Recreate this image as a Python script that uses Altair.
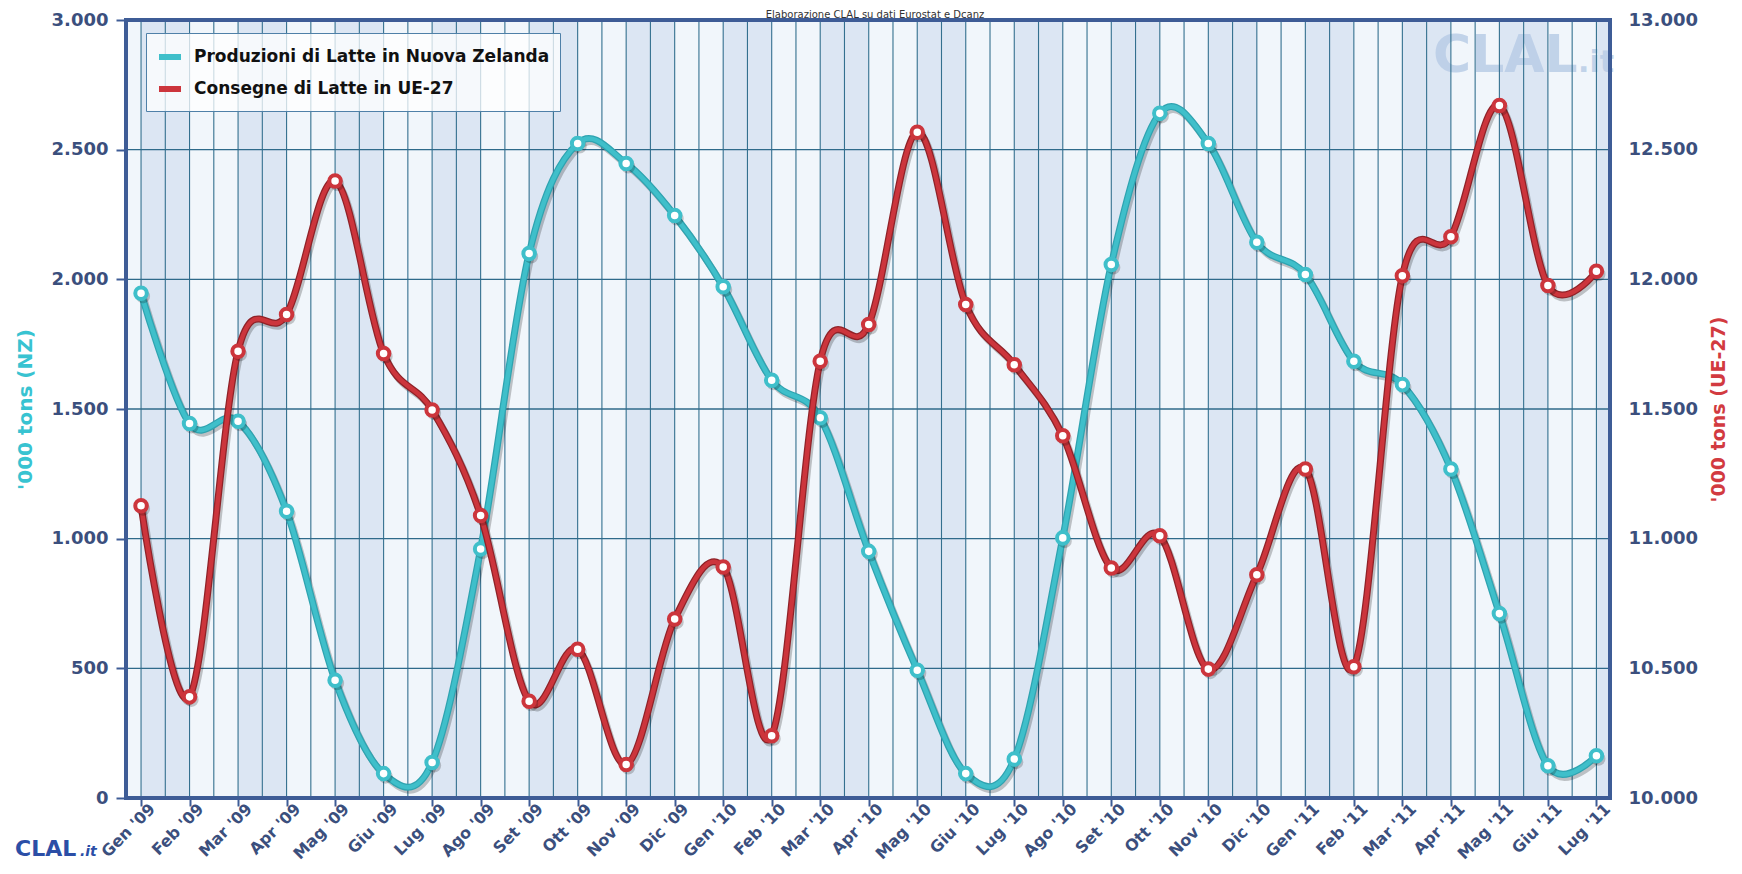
import json
import pandas as pd
import altair as alt

months = ["Gen '09", "Feb '09", "Mar '09", "Apr '09", "Mag '09", "Giu '09", "Lug '09", "Ago '09",
          "Set '09", "Ott '09", "Nov '09", "Dic '09", "Gen '10", "Feb '10", "Mar '10", "Apr '10",
          "Mag '10", "Giu '10", "Lug '10", "Ago '10", "Set '10", "Ott '10", "Nov '10", "Dic '10",
          "Gen '11", "Feb '11", "Mar '11", "Apr '11", "Mag '11", "Giu '11", "Lug '11"]
nz = [1946, 1444, 1453, 1106, 454, 94, 137, 960, 2100, 2524, 2447, 2246,
      1971, 1611, 1466, 951, 493, 94, 150, 1003, 2057, 2640, 2524, 2143,
      2019, 1684, 1594, 1269, 711, 124, 163]
ue = [11127, 10390, 11723, 11864, 12379, 11714, 11496, 11089, 10373, 10574, 10129, 10690,
      10891, 10240, 11684, 11826, 12567, 11903, 11671, 11397, 10887, 11011, 10497, 10861,
      11269, 10506, 12014, 12164, 12670, 11976, 12031]
nz_ticks = [0, 500, 1000, 1500, 2000, 2500, 3000]
ue_ticks = [10000, 10500, 11000, 11500, 12000, 12500, 13000]
NZ_NAME = "Produzioni di Latte in Nuova Zelanda"
UE_NAME = "Consegne di Latte in UE-27"
title_text = ["Elaborazione CLAL su dati Eurostat e Dcanz"]

CYAN = "#3fbfca"
RED = "#cc353c"
AXC = "#3e5c96"
LABC = "#3b4f7d"
GRIDC = "#34708f"
FONT = "DejaVu Sans"
W, H = 1484, 778

nz_df = pd.DataFrame({"i": list(range(len(months))), "v": nz, "series": NZ_NAME})
ue_df = pd.DataFrame({"i": list(range(len(months))), "v": ue, "series": UE_NAME})
month_df = pd.DataFrame({"i": list(range(len(months))), "m": months})
hgrid_df = pd.DataFrame({"v": nz_ticks[1:-1]})

xscale = alt.Scale(domain=[-0.31, len(months) - 1 + 0.28], nice=False, zero=False)
xaxis = alt.Axis(values=list(range(len(months))), labelExpr=json.dumps(months) + "[datum.value]",
                 labelAngle=315, labelAlign="right", labelBaseline="middle",
                 labelFont=FONT, labelFontWeight="bold", labelFontSize=16, labelColor=LABC,
                 labelPadding=0, labelOffset=11, labelOverlap=False, labelFlush=False, labelBound=False,
                 tickSize=8, tickWidth=2, tickColor=AXC, domain=False, grid=False, title=None)
X = alt.X("i:Q", scale=xscale, axis=xaxis, title=None)

nz_axis = alt.Axis(orient="left", values=nz_ticks, labelExpr="replace(format(datum.value, ','), ',', '.')",
                   labelFont=FONT, labelFontWeight="bold", labelFontSize=18, labelColor=LABC,
                   labelPadding=8, tickSize=10, tickWidth=2, tickColor=AXC, domain=False, grid=False,
                   title="'000 tons (NZ)", titleColor="#38c3d1", titleFont=FONT, titleFontSize=20,
                   titleFontWeight="bold", titlePadding=16)
ue_axis = alt.Axis(orient="right", values=ue_ticks, labelExpr="replace(format(datum.value, ','), ',', '.')",
                   labelFont=FONT, labelFontWeight="bold", labelFontSize=18, labelColor=LABC,
                   labelPadding=18, ticks=False, tickSize=0, domain=False, grid=False,
                   title="'000 tons (UE-27)", titleColor="#d23a40", titleFont=FONT, titleFontSize=19,
                   titleFontWeight="bold", titlePadding=12, titleAngle=270, titleBaseline="top")
Ynz = alt.Y("v:Q", scale=alt.Scale(domain=[0, 3000], nice=False, zero=False), axis=nz_axis)
Yue = alt.Y("v:Q", scale=alt.Scale(domain=[10000, 13000], nice=False, zero=False), axis=ue_axis)

COLOR = alt.Color("series:N", scale=alt.Scale(domain=[NZ_NAME, UE_NAME], range=[CYAN, RED]),
                  legend=alt.Legend(orient="none", legendX=20, legendY=13, direction="vertical", title=None,
                                    fillColor="rgba(255,255,255,0.75)", strokeColor="#4f80a8", padding=10,
                                    labelFont=FONT, labelFontWeight="bold", labelFontSize=17, labelColor="#111111",
                                    labelLimit=1000,
                                    symbolType="stroke", symbolSize=484, symbolStrokeWidth=6, labelOffset=10,
                                    rowPadding=6, cornerRadius=0, symbolOpacity=1))

bands = alt.Chart(month_df).transform_filter("datum.i % 2 == 0").transform_calculate(
    i2="datum.i + 1").mark_rect(color="#dce6f3", clip=True).encode(x=X, x2="i2:Q")

wm_df = pd.DataFrame({"t": ["CLAL"]})
wm_df2 = pd.DataFrame({"t": [".it"]})
watermark = alt.Chart(wm_df).mark_text(font=FONT, fontWeight="bold", fontSize=52, color="#b9cde7",
                                       opacity=0.85, align="left", baseline="alphabetic").encode(
    x=alt.value(1307), y=alt.value(52), text="t:N")
watermark2 = alt.Chart(wm_df2).mark_text(font=FONT, fontWeight="bold", fontSize=30, color="#b9cde7",
                                         opacity=0.85, align="left", baseline="alphabetic").encode(
    x=alt.value(1452), y=alt.value(52), text="t:N")

vgrid1 = alt.Chart(month_df).mark_rule(color=GRIDC, strokeWidth=1.1).encode(x=X)
vgrid2 = alt.Chart(month_df).transform_filter("datum.i < 30").transform_calculate(
    i="datum.i + 0.5").mark_rule(color=GRIDC, strokeWidth=1.1).encode(x=X)

hgrid = alt.Chart(hgrid_df).mark_rule(color="#2f6a8a", strokeWidth=1.3).encode(y=Ynz)


def series_layers(df, Y, core, outline, grid=None):
    shadow = alt.Chart(df).mark_line(interpolate="cardinal", color="#000000", opacity=0.22, strokeWidth=7,
                                     xOffset=2, yOffset=3).encode(x=X, y=Y)
    edge = alt.Chart(df).mark_line(interpolate="cardinal", color=outline, strokeWidth=7).encode(x=X, y=Y)
    line = alt.Chart(df).mark_line(interpolate="cardinal", strokeWidth=4.5, opacity=1).encode(
        x=X, y=Y, color=COLOR)
    pshadow = alt.Chart(df).mark_point(shape="circle", filled=True, color="#000000", opacity=0.2, size=200,
                                       xOffset=2, yOffset=3).encode(x=X, y=Y)
    pts = alt.Chart(df).mark_point(shape="circle", filled=True, fill="white", stroke=core, strokeWidth=4,
                                   size=133, opacity=1, fillOpacity=1, strokeOpacity=1).encode(x=X, y=Y)
    layers = [shadow, edge, line, pshadow, pts]
    if grid is not None:
        layers = [grid] + layers
    return alt.layer(*layers)


nz_layer = series_layers(nz_df, Ynz, CYAN, "#2fa3b0", grid=hgrid)
ue_layer = series_layers(ue_df, Yue, RED, "#8f2228")

frame_df = pd.DataFrame({"f": [0]})
frame = alt.Chart(frame_df).mark_rect(filled=False, stroke=AXC, strokeWidth=4, fillOpacity=0).encode(
    x=alt.value(0), x2=alt.value(W), y=alt.value(0), y2=alt.value(H))

t_df = pd.DataFrame({"t": title_text})
title = alt.Chart(t_df).mark_text(font=FONT, fontSize=10, color="#333333", align="center",
                                  baseline="alphabetic").encode(x=alt.value(749), y=alt.value(-2.5), text="t:N")
logo1 = alt.Chart(wm_df).mark_text(font=FONT, fontWeight="bold", fontSize=22, color="#2b4ea6", align="left",
                                   baseline="alphabetic").encode(x=alt.value(-111), y=alt.value(836), text="t:N")
logo2 = alt.Chart(wm_df2).mark_text(font=FONT, fontWeight="bold", fontStyle="italic", fontSize=14,
                                    color="#2b4ea6", align="left", baseline="alphabetic").encode(
    x=alt.value(-46), y=alt.value(836), text="t:N")

chart = alt.layer(bands, watermark, watermark2, vgrid1, vgrid2, nz_layer, ue_layer, frame, title, logo1, logo2
                  ).resolve_scale(y="independent").properties(
    width=W, height=H,
    autosize=alt.AutoSizeParams(type="none"),
    padding={"left": 118, "top": 12, "right": 124, "bottom": 67},
    background="white",
).configure_view(strokeWidth=0, fill="#f1f6fb")

chart.save("out.html", embed_options={"renderer": "svg", "actions": False})
